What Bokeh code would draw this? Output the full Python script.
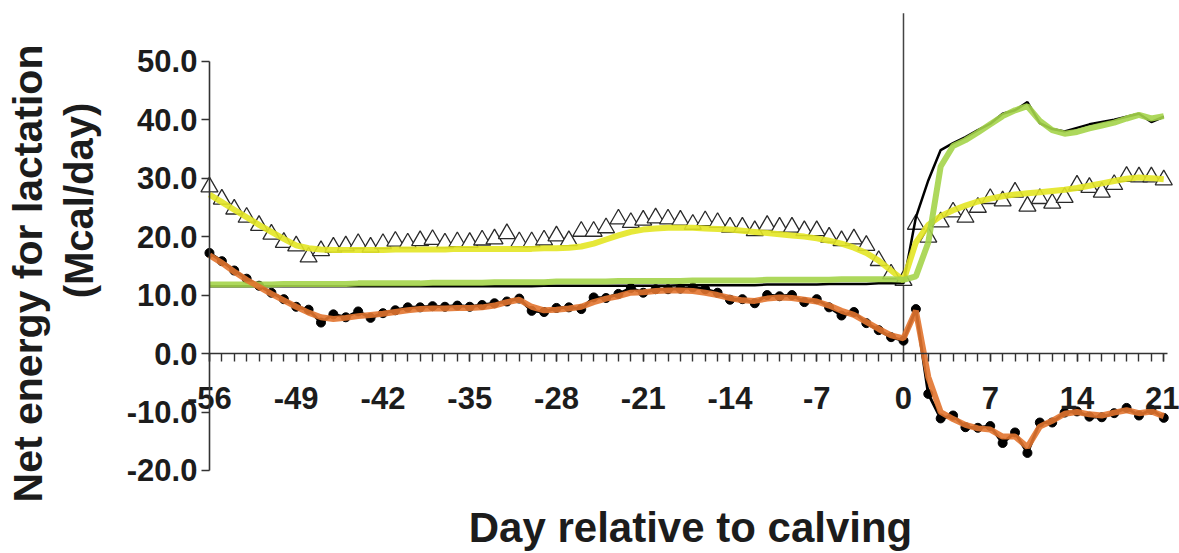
import math
from bokeh.plotting import figure
from bokeh.models import FixedTicker, Range1d, Label, LinearAxis
from bokeh.embed import file_html
from bokeh.resources import INLINE

days = list(range(-56, 22))

# open triangles: observed NEL intake
intake_obs = [28.5, 26.4, 24.7, 23.3, 21.9, 20.4, 19.0, 18.4, 16.5, 17.6,
              18.2, 18.4, 18.8, 18.2, 18.8, 19.2, 18.9, 19.3, 19.5, 18.9,
              19.1, 19.0, 19.4, 19.6, 20.5, 19.1, 19.1, 19.4, 20.1, 19.3,
              20.9, 20.9, 21.5, 23.0, 22.4, 22.8, 23.2, 23.0, 22.8, 22.1,
              22.7, 22.4, 21.6, 21.6, 21.0, 21.9, 21.6, 21.6, 21.0, 21.0,
              19.9, 19.3, 19.6, 18.5, 15.9, 13.6, 12.5, 22.1, 19.9, 22.5,
              24.2, 23.3, 25.0, 26.5, 26.1, 27.6, 25.2, 26.5, 25.7, 26.7,
              28.8, 28.4, 27.6, 28.9, 30.3, 30.2, 30.2, 29.7]
# yellow: predicted NEL intake
intake_pred = [27.2, 25.9, 24.6, 23.3, 22.0, 20.8, 19.6, 18.5, 18.0, 17.8,
               17.7, 17.7, 17.7, 17.7, 17.7, 17.8, 17.8, 17.8, 17.8, 17.8,
               17.9, 17.9, 17.9, 17.9, 17.9, 17.9, 17.9, 18.0, 18.0, 18.1,
               18.3, 18.8, 19.5, 20.2, 20.8, 21.2, 21.4, 21.5, 21.5, 21.5,
               21.4, 21.3, 21.2, 21.0, 20.8, 20.6, 20.4, 20.2, 20.0, 19.7,
               19.3, 18.8, 18.1, 17.2, 15.9, 14.2, 12.5, 19.0, 22.0, 23.5,
               24.5, 25.3, 26.0, 26.5, 26.9, 27.2, 27.4, 27.6, 27.8, 28.0,
               28.3, 28.7, 29.1, 29.5, 29.9, 30.1, 30.0, 29.8]
# black line: observed NEL requirement
req_obs = [11.5, 11.5, 11.5, 11.5, 11.5, 11.5, 11.5, 11.5, 11.5, 11.5,
           11.5, 11.5, 11.5, 11.5, 11.5, 11.5, 11.5, 11.5, 11.5, 11.5,
           11.5, 11.5, 11.5, 11.5, 11.5, 11.5, 11.5, 11.6, 11.6, 11.6,
           11.6, 11.6, 11.6, 11.6, 11.6, 11.6, 11.6, 11.6, 11.7, 11.7,
           11.7, 11.7, 11.7, 11.7, 11.7, 11.8, 11.8, 11.8, 11.8, 11.8,
           11.9, 11.9, 11.9, 11.9, 12.0, 12.0, 12.0, 23.3, 29.6, 34.8,
           36.0, 37.0, 38.2, 39.3, 41.0, 41.6, 43.0, 39.4, 38.4, 38.0,
           38.6, 39.2, 39.6, 40.0, 40.5, 41.0, 39.6, 40.5]
# green: predicted NEL requirement
req_pred = [11.8, 11.8, 11.8, 11.8, 11.8, 11.8, 11.9, 11.9, 11.9, 11.9,
            11.9, 11.9, 12.0, 12.0, 12.0, 12.0, 12.0, 12.0, 12.1, 12.1,
            12.1, 12.1, 12.1, 12.2, 12.2, 12.2, 12.2, 12.2, 12.3, 12.3,
            12.3, 12.3, 12.3, 12.4, 12.4, 12.4, 12.4, 12.4, 12.4, 12.5,
            12.5, 12.5, 12.5, 12.5, 12.5, 12.6, 12.6, 12.6, 12.6, 12.6,
            12.6, 12.7, 12.7, 12.7, 12.7, 12.7, 12.6, 13.2, 19.0, 32.0,
            35.5, 36.5, 37.8, 39.2, 40.6, 41.6, 42.3, 39.8, 38.2, 37.6,
            37.9, 38.5, 39.0, 39.5, 40.2, 40.8, 40.2, 40.6]
# black dots: observed energy balance
eb_obs = [17.2, 15.8, 14.2, 12.8, 11.6, 10.4, 9.3, 8.0, 7.5, 5.3,
          6.7, 6.2, 7.2, 6.1, 6.9, 7.4, 7.9, 7.9, 8.1, 8.0,
          8.2, 8.0, 8.3, 8.6, 8.9, 9.4, 7.3, 7.1, 7.8, 7.9,
          7.6, 9.6, 9.5, 10.2, 11.2, 10.4, 11.0, 11.0, 11.1, 11.3,
          11.0, 10.4, 9.2, 9.3, 8.6, 10.0, 9.8, 10.0, 8.8, 9.3,
          7.9, 6.5, 7.1, 5.2, 4.0, 2.8, 2.2, 7.6, -6.9, -11.1,
          -10.6, -12.6, -12.7, -12.4, -15.3, -13.5, -17.0, -11.8, -11.8, -10.1,
          -9.9, -10.8, -10.9, -10.2, -9.3, -10.6, -9.6, -11.0]
# orange: predicted energy balance
eb_pred = [16.8, 15.5, 14.0, 12.6, 11.4, 10.2, 9.1, 8.0, 7.0, 6.2,
           5.9, 6.1, 6.4, 6.6, 6.8, 7.1, 7.4, 7.6, 7.7, 7.7,
           7.8, 7.8, 7.9, 8.2, 8.8, 9.2, 8.0, 7.4, 7.5, 7.7,
           8.0, 8.8, 9.4, 9.8, 10.4, 10.5, 10.7, 10.8, 10.8, 10.7,
           10.4, 10.0, 9.5, 9.1, 9.0, 9.4, 9.6, 9.5, 9.2, 8.9,
           8.2, 7.3, 6.6, 5.4, 4.2, 3.1, 2.6, 7.3, -4.0, -10.0,
           -11.2, -12.2, -12.8, -13.0, -14.2, -14.2, -16.0, -12.5, -11.5, -10.3,
           -10.0, -10.4, -10.6, -10.1, -9.7, -10.2, -9.9, -10.7]

x_tick_values = [-56, -49, -42, -35, -28, -21, -14, -7, 0, 7, 14, 21]
x_tick_labels = ["-56", "-49", "-42", "-35", "-28", "-21", "-14", "-7",
                 "0", "7", "14", "21"]
y_tick_values = [-20, -10, 0, 10, 20, 30, 40, 50]
y_tick_labels = ["-20.0", "-10.0", "0.0", "10.0", "20.0", "30.0", "40.0", "50.0"]
calving_day = 0

x_title = "Day relative to calving"
y_title_1 = "Net energy for lactation"
y_title_2 = "(Mcal/day)"

FONT = "Liberation Sans"
TXT = "#1c1c1c"
AX = "#333333"

# the plotting frame fills the whole canvas; axes sit at fixed places in it
x_lo, x_hi = -56, 21.3          # extent of the drawn x axis
y_lo, y_hi = -20, 50            # extent of the drawn y axis
y_line_top = 58.2               # top of the calving reference line
p = figure(width=1179, height=553, output_backend="svg", toolbar_location=None,
           x_range=Range1d(-72.86, 22.27), y_range=Range1d(-34.2, 60.38),
           x_axis_type=None, y_axis_type=None,
           min_border_left=0, min_border_right=0, min_border_top=0,
           min_border_bottom=0)
p.outline_line_color = None
p.background_fill_color = "white"
p.border_fill_color = "white"

xa = LinearAxis(ticker=FixedTicker(ticks=x_tick_values, minor_ticks=days),
                fixed_location=0, bounds=(x_lo, x_hi))
xa.major_label_overrides = {v: s for v, s in zip(x_tick_values, x_tick_labels)}
xa.axis_line_color = AX
xa.axis_line_width = 1.6
xa.major_tick_line_color = AX
xa.minor_tick_line_color = AX
xa.major_tick_line_width = 1.4
xa.minor_tick_line_width = 1.4
xa.major_tick_in = 0
xa.major_tick_out = 8
xa.minor_tick_in = 0
xa.minor_tick_out = 8
xa.major_label_standoff = 25
xa.major_label_text_font = FONT
xa.major_label_text_font_style = "bold"
xa.major_label_text_font_size = "31px"
xa.major_label_text_color = TXT
p.add_layout(xa, "below")

ya = LinearAxis(ticker=FixedTicker(ticks=y_tick_values, minor_ticks=[]),
                fixed_location=x_lo, bounds=(y_lo, y_hi))
ya.major_label_overrides = {v: s for v, s in zip(y_tick_values, y_tick_labels)}
ya.axis_line_color = AX
ya.axis_line_width = 1.6
ya.major_tick_line_color = AX
ya.major_tick_line_width = 1.4
ya.major_tick_in = 0
ya.major_tick_out = 8
ya.minor_tick_out = 0
ya.minor_tick_in = 0
ya.major_label_standoff = 4
ya.major_label_text_font = FONT
ya.major_label_text_font_style = "bold"
ya.major_label_text_font_size = "31px"
ya.major_label_text_color = TXT
p.add_layout(ya, "left")

# calving reference line
p.segment(x0=[calving_day], y0=[0], x1=[calving_day], y1=[y_line_top],
          line_color="#444444", line_width=1.5)

# observed series
p.scatter(days, intake_obs, marker="triangle", size=17, fill_color="white",
          line_color="#2a2a2a", line_width=1.3)
p.line(days, req_obs, line_color="black", line_width=2.5)
p.line(days, eb_obs, line_color="black", line_width=3)
p.scatter(days, eb_obs, marker="circle", size=9, fill_color="black",
          line_color="black")

# predicted series
p.line(days, intake_pred, line_color="#e3e524", line_width=6, line_alpha=0.9)
p.line(days, req_pred, line_color="#a4d44a", line_width=6, line_alpha=0.9)
p.line(days, eb_pred, line_color="#e2742f", line_width=6, line_alpha=0.9)

# axis titles (screen units, measured from the canvas' bottom-left corner)
p.add_layout(Label(x=27, y=280, x_units="screen", y_units="screen",
                   text=y_title_1, angle=math.pi / 2, text_align="center",
                   text_baseline="alphabetic", text_font=FONT,
                   text_font_style="bold", text_font_size="41px",
                   text_color=TXT))
p.add_layout(Label(x=78, y=353, x_units="screen", y_units="screen",
                   text=y_title_2, angle=math.pi / 2, text_align="center",
                   text_baseline="alphabetic", text_font=FONT,
                   text_font_style="bold", text_font_size="40px",
                   text_color=TXT))
p.add_layout(Label(x=690, y=26, x_units="screen", y_units="screen",
                   text=x_title, text_align="center",
                   text_baseline="alphabetic", text_font=FONT,
                   text_font_style="bold", text_font_size="42px",
                   text_color=TXT))

open("out.html", "w").write(file_html(p, INLINE))
